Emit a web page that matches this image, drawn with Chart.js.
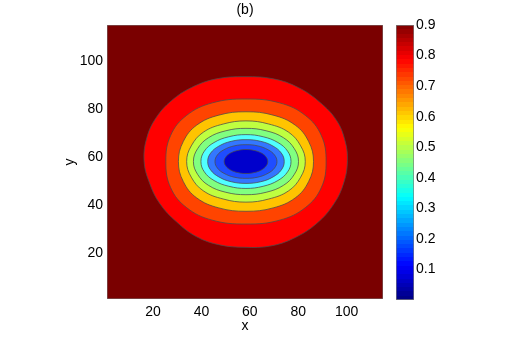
<!DOCTYPE html>
<html>
<head>
<meta charset="utf-8">
<script src="https://cdn.jsdelivr.net/npm/chart.js@4/dist/chart.umd.min.js"></script>
<style>
  html, body { margin: 0; padding: 0; background: #fff; }
  #wrap { position: relative; width: 518px; height: 338px; }
  #wrap canvas { position: absolute; left: 0; top: 0; }
</style>
</head>
<body>
<div id="wrap">
  <canvas id="plot" width="518" height="338"></canvas>
  <canvas id="cbar" width="518" height="338"></canvas>
</div>
<script>
// axis ranges and tick labels
const xRange = [1, 115];
const yRange = [1, 115];
const xTicks = [20, 40, 60, 80, 100];
const yTicks = [20, 40, 60, 80, 100];
const cbarRange = [0, 0.9];
const cbarTicks = [0.1, 0.2, 0.3, 0.4, 0.5, 0.6, 0.7, 0.8, 0.9];

// contour lines, outermost first
const contourRed = [[16.3,58.6],[17.5,68.3],[21.4,76.6],[27.6,83.5],[35.9,89.0],[46.2,92.6],[58.0,93.5],[69.7,92.6],
  [80.0,89.0],[89.0,82.8],[95.9,75.2],[99.3,66.9],[100.3,58.6],[98.9,49.7],[94.8,40.7],[87.6,32.4],
  [78.0,26.2],[68.3,23.0],[58.0,22.5],[47.6,23.5],[38.0,26.9],[29.7,33.1],[22.8,40.7],[18.4,49.7]];
const contourOrange = [[91.5,58.2],[89.5,69.1],[82.9,77.4],[72.3,82.6],[58.4,84.2],[44.5,82.6],[33.9,77.4],[27.3,69.1],
  [25.3,58.2],[27.3,47.3],[33.9,39.0],[44.5,33.8],[58.4,32.2],[72.3,33.8],[82.9,39.0],[89.5,47.3]];
const contourYellow = [[86.3,58.2],[84.3,66.5],[78.8,73.3],[69.6,77.5],[58.4,78.9],[47.2,77.5],[38.0,73.3],[32.5,66.5],
  [30.5,58.2],[32.5,49.9],[38.0,43.1],[47.2,38.9],[58.4,37.5],[69.6,38.9],[78.8,43.1],[84.3,49.9]];
const contourLime = [[82.9,58.2],[81.0,64.7],[76.0,70.4],[67.8,73.8],[58.4,75.1],[49.0,73.8],[40.8,70.4],[35.8,64.7],
  [33.9,58.2],[35.8,51.7],[40.8,46.0],[49.0,42.6],[58.4,41.3],[67.8,42.6],[76.0,46.0],[81.0,51.7]];
const contourGreen = [[80.1,58.2],[78.4,63.5],[73.9,68.1],[66.7,71.0],[58.4,72.0],[50.1,71.0],[42.9,68.1],[38.4,63.5],
  [36.7,58.2],[38.4,52.9],[42.9,48.3],[50.1,45.4],[58.4,44.4],[66.7,45.4],[73.9,48.3],[78.4,52.9]];
const contourCyan = [[77.0,58.2],[75.6,62.5],[71.6,66.1],[65.5,68.5],[58.4,69.4],[51.3,68.5],[45.2,66.1],[41.2,62.5],
  [39.8,58.2],[41.2,53.9],[45.2,50.3],[51.3,47.9],[58.4,47.0],[65.5,47.9],[71.6,50.3],[75.6,53.9]];
const contourLightBlue = [[74.2,58.2],[73.0,61.7],[69.6,64.6],[64.5,66.6],[58.4,67.3],[52.3,66.6],[47.2,64.6],[43.8,61.7],
  [42.6,58.2],[43.8,54.7],[47.2,51.8],[52.3,49.8],[58.4,49.1],[64.5,49.8],[69.6,51.8],[73.0,54.7]];
const contourBlue = [[71.2,58.2],[70.2,60.9],[67.5,63.1],[63.3,64.7],[58.4,65.2],[53.5,64.7],[49.3,63.1],[46.6,60.9],
  [45.6,58.2],[46.6,55.5],[49.3,53.3],[53.5,51.7],[58.4,51.2],[63.3,51.7],[67.5,53.3],[70.2,55.5]];
const contourDarkBlue = [[67.4,58.2],[66.7,60.1],[64.8,61.7],[61.8,62.8],[58.4,63.2],[55.0,62.8],[52.0,61.7],[50.1,60.1],
  [49.4,58.2],[50.1,56.3],[52.0,54.7],[55.0,53.6],[58.4,53.2],[61.8,53.6],[64.8,54.7],[66.7,56.3]];

const contours = [contourRed, contourOrange, contourYellow, contourLime, contourGreen,
  contourCyan, contourLightBlue, contourBlue, contourDarkBlue];
const fillColors = ['#ff0000', '#ff4400', '#ffc400', '#bfff40', '#80ff80',
  '#50ffff', '#3377ff', '#1f4dff', '#0000cc'];
const outsideColor = '#7a0000';
const lineColor = 'rgba(75,75,75,0.85)';
const frameColor = '#7a7a7a';

Chart.defaults.font.family = "'Liberation Sans', Arial, sans-serif";
Chart.defaults.font.size = 14;
Chart.defaults.color = '#000';

const toPts = arr => arr.map(([x, y]) => ({x, y}));

// make the line elements wrap round like radar lines do, so the spline has no seam
const closeLoops = {
  id: 'closeLoops',
  afterDatasetsUpdate(chart) {
    chart.data.datasets.forEach((ds, i) => {
      const line = chart.getDatasetMeta(i).dataset;
      if (line) {
        line._loop = true;
        line._fullLoop = true;
        line._pointsUpdated = false;
        line._segments = undefined;
      }
    });
  }
};

// small inward tick marks, matlab style
const inTicks = { display: true, drawOnChartArea: false, drawTicks: true, tickLength: -3, color: frameColor, lineWidth: 1 };

// innermost first so it is painted on top
const datasets = contours.map((c, i) => ({
  data: toPts(c),
  showLine: true,
  fill: 'shape',
  backgroundColor: fillColors[i],
  borderColor: lineColor,
  borderWidth: 0.9,
  pointRadius: 0,
  tension: 0.4
})).reverse();

datasets.push({
  data: toPts([[xRange[0], yRange[0]], [xRange[1], yRange[0]], [xRange[1], yRange[1]], [xRange[0], yRange[1]]]),
  showLine: true,
  fill: 'shape',
  backgroundColor: outsideColor,
  borderColor: frameColor,
  borderWidth: 1,
  pointRadius: 0,
  tension: 0
});

new Chart(document.getElementById('plot'), {
  type: 'scatter',
  data: { datasets },
  plugins: [closeLoops],
  options: {
    responsive: false,
    animation: false,
    layout: { padding: { left: 0, right: 135, top: 0, bottom: 0 } },
    plugins: {
      legend: { display: false },
      tooltip: { enabled: false },
      title: {
        display: true, text: '(b)', fullSize: false,
        padding: { top: 1.9, bottom: 6.3 },
        font: { size: 14, weight: 'normal' }, color: '#000'
      }
    },
    scales: {
      x: {
        type: 'linear', min: xRange[0], max: xRange[1], z: 1,
        afterBuildTicks: s => { s.ticks = xTicks.map(v => ({ value: v })); },
        afterFit: s => { s.height = 39; },
        grid: inTicks,
        border: { display: false },
        ticks: { padding: 8, maxRotation: 0 },
        title: { display: true, text: 'x', padding: { top: 0, bottom: 3.3 } }
      },
      x2: {
        type: 'linear', position: 'top', min: xRange[0], max: xRange[1], z: 1,
        afterBuildTicks: s => { s.ticks = xTicks.map(v => ({ value: v })); },
        afterFit: s => { s.height = 0; },
        grid: inTicks,
        border: { display: false },
        ticks: { display: false }
      },
      y: {
        type: 'linear', min: yRange[0], max: yRange[1], z: 1,
        afterBuildTicks: s => { s.ticks = yTicks.map(v => ({ value: v })); },
        afterFit: s => { s.width = 107; },
        grid: inTicks,
        border: { display: false },
        ticks: { padding: 7 },
        title: { display: true, text: 'y', padding: { top: 62, bottom: 0 } }
      },
      y2: {
        type: 'linear', position: 'right', min: yRange[0], max: yRange[1], z: 1,
        afterBuildTicks: s => { s.ticks = yTicks.map(v => ({ value: v })); },
        afterFit: s => { s.width = 0; },
        grid: inTicks,
        border: { display: false },
        ticks: { display: false }
      }
    }
  }
});

// jet colormap, 64 steps, for the colour bar
function jet(t) {
  const c = v => Math.round(255 * Math.max(0, Math.min(1, v)));
  return 'rgb(' + c(1.5 - Math.abs(4 * t - 3)) + ',' + c(1.5 - Math.abs(4 * t - 2)) + ',' + c(1.5 - Math.abs(4 * t - 1)) + ')';
}

new Chart(document.getElementById('cbar'), {
  type: 'bar',
  data: {
    labels: [''],
    datasets: [{
      data: [cbarRange],
      backgroundColor: ctx => {
        const area = ctx.chart.chartArea;
        if (!area) return null;
        const g = ctx.chart.ctx.createLinearGradient(0, area.bottom, 0, area.top);
        for (let i = 0; i < 64; i++) {
          const col = jet((i + 0.5) / 64);
          g.addColorStop(i / 64, col);
          g.addColorStop((i + 1) / 64, col);
        }
        return g;
      },
      borderColor: frameColor,
      borderWidth: 1,
      borderSkipped: false,
      barPercentage: 1,
      categoryPercentage: 1
    }]
  },
  options: {
    responsive: false,
    animation: false,
    layout: { padding: { left: 396, right: 0, top: 25, bottom: 38 } },
    plugins: { legend: { display: false }, tooltip: { enabled: false } },
    scales: {
      x: { display: false },
      y: {
        position: 'right', min: cbarRange[0], max: cbarRange[1], z: 1,
        afterBuildTicks: s => { s.ticks = cbarTicks.map(v => ({ value: v })); },
        afterFit: s => { s.width = 104; },
        grid: inTicks,
        border: { display: false },
        ticks: { padding: 5, callback: v => v.toFixed(1) }
      },
      y2: {
        position: 'left', min: cbarRange[0], max: cbarRange[1], z: 1,
        afterBuildTicks: s => { s.ticks = cbarTicks.map(v => ({ value: v })); },
        afterFit: s => { s.width = 0; },
        grid: inTicks,
        border: { display: false },
        ticks: { display: false }
      }
    }
  }
});
</script>
</body>
</html>
